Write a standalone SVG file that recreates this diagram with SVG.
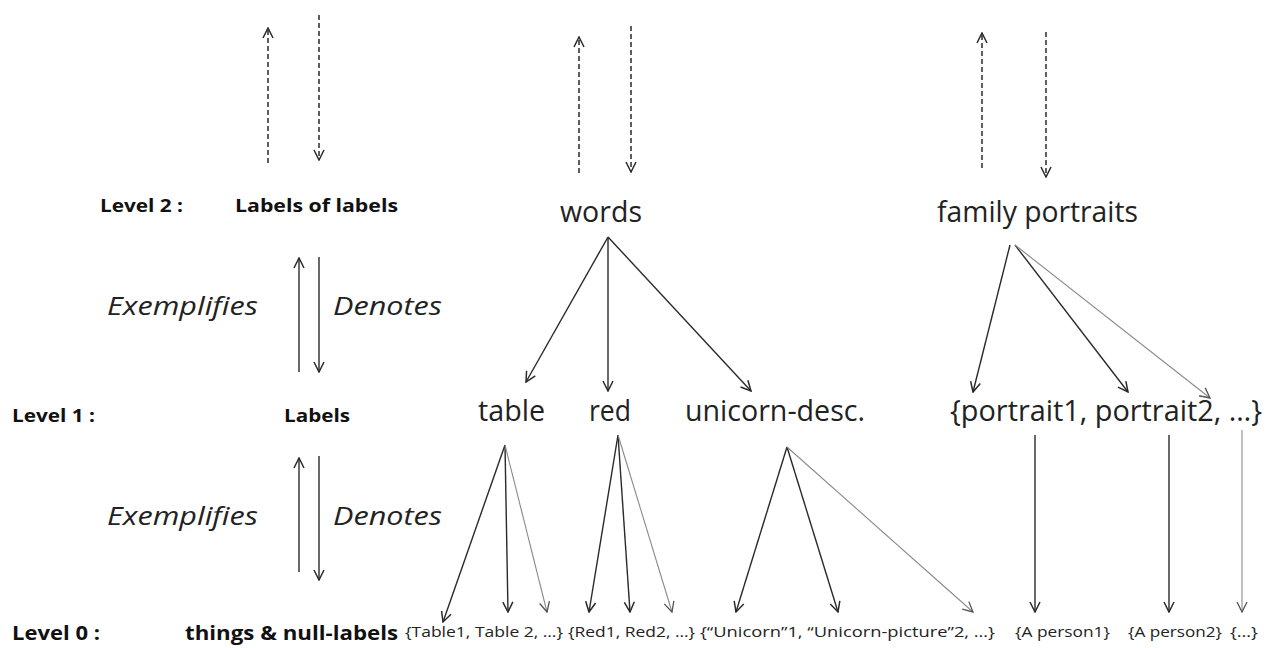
<svg xmlns="http://www.w3.org/2000/svg" width="1269" height="648" viewBox="0 0 1269 648">
<style>
.bg{fill:#fff}
.lvl{font-family:"Open Sans","Liberation Sans",sans-serif;font-weight:bold;font-size:18px;fill:#111}
.lvl0{font-family:"Open Sans","Liberation Sans",sans-serif;font-weight:bold;font-size:19px;fill:#111}
.big{font-family:"Open Sans","Liberation Sans",sans-serif;font-size:29px;fill:#222}
.it{font-family:"Open Sans","Liberation Sans",sans-serif;font-style:italic;font-size:25px;fill:#222}
.sm{font-family:"Open Sans","Liberation Sans",sans-serif;font-size:15px;fill:#222}
.solid{stroke:#2a2a2a;stroke-width:1.4;fill:none;marker-end:url(#ah)}
.light{stroke:#8a8a8a;stroke-width:1.1;fill:none;marker-end:url(#ahl)}
.dash{stroke:#2a2a2a;stroke-width:1.5;fill:none;stroke-dasharray:5 3;marker-end:url(#ah)}
</style>
<defs>
<marker id="ah" viewBox="0 0 12 12" refX="11" refY="6" markerWidth="12" markerHeight="12" markerUnits="userSpaceOnUse" orient="auto">
<path d="M1,1 L11,6 L1,11" fill="none" stroke="#2a2a2a" stroke-width="1.5"/>
</marker>
<marker id="ahl" viewBox="0 0 12 12" refX="11" refY="6" markerWidth="12" markerHeight="12" markerUnits="userSpaceOnUse" orient="auto">
<path d="M1,1 L11,6 L1,11" fill="none" stroke="#555" stroke-width="1.3"/>
</marker>
</defs>
<rect class="bg" x="0" y="0" width="1269" height="648"/>

<g id="legend">
<text class="lvl" x="100" y="212" textLength="83" lengthAdjust="spacingAndGlyphs">Level 2 :</text>
<text class="lvl" x="235" y="212" textLength="163" lengthAdjust="spacingAndGlyphs">Labels of labels</text>
<text class="lvl" x="12" y="422" textLength="83" lengthAdjust="spacingAndGlyphs">Level 1 :</text>
<text class="lvl" x="284" y="422" textLength="66" lengthAdjust="spacingAndGlyphs">Labels</text>
<text class="lvl0" x="12" y="640" textLength="88" lengthAdjust="spacingAndGlyphs">Level 0 :</text>
<text class="lvl0" x="185" y="640" textLength="213" lengthAdjust="spacingAndGlyphs">things &amp; null-labels</text>
<text class="it" x="107" y="315" textLength="151" lengthAdjust="spacingAndGlyphs">Exemplifies</text>
<text class="it" x="333" y="315" textLength="109" lengthAdjust="spacingAndGlyphs">Denotes</text>
<text class="it" x="107" y="525" textLength="151" lengthAdjust="spacingAndGlyphs">Exemplifies</text>
<text class="it" x="333" y="525" textLength="109" lengthAdjust="spacingAndGlyphs">Denotes</text>
</g>

<g id="n-words"><text class="big" x="560" y="222" textLength="82" lengthAdjust="spacingAndGlyphs">words</text></g>
<g id="n-family"><text class="big" x="937" y="222" textLength="201" lengthAdjust="spacingAndGlyphs">family portraits</text></g>
<g id="n-table"><text class="big" x="478" y="421" textLength="67" lengthAdjust="spacingAndGlyphs">table</text></g>
<g id="n-red"><text class="big" x="589" y="421" textLength="42" lengthAdjust="spacingAndGlyphs">red</text></g>
<g id="n-unicorn"><text class="big" x="685" y="421" textLength="180" lengthAdjust="spacingAndGlyphs">unicorn-desc.</text></g>
<g id="n-portraits"><text class="big" x="950" y="421" textLength="312" lengthAdjust="spacingAndGlyphs">{portrait1, portrait2, …}</text></g>
<g id="n-tables"><text class="sm" x="405" y="637" textLength="158" lengthAdjust="spacingAndGlyphs">{Table1, Table 2, …}</text></g>
<g id="n-reds"><text class="sm" x="568" y="637" textLength="127" lengthAdjust="spacingAndGlyphs">{Red1, Red2, …}</text></g>
<g id="n-unicorns"><text class="sm" x="700" y="637" textLength="295" lengthAdjust="spacingAndGlyphs">{“Unicorn”1, “Unicorn-picture”2, …}</text></g>
<g id="n-person1"><text class="sm" x="1015" y="637" textLength="95" lengthAdjust="spacingAndGlyphs">{A person1}</text></g>
<g id="n-person2"><text class="sm" x="1128" y="637" textLength="94" lengthAdjust="spacingAndGlyphs">{A person2}</text></g>
<g id="n-etc"><text class="sm" x="1230" y="637" textLength="28" lengthAdjust="spacingAndGlyphs">{…}</text></g>

<g id="connectors">
<line class="dash" x1="268" y1="163" x2="268" y2="28"/>
<line class="dash" x1="319" y1="15" x2="319" y2="160"/>
<line class="dash" x1="579" y1="173" x2="579" y2="37"/>
<line class="dash" x1="631" y1="26" x2="631" y2="172"/>
<line class="dash" x1="982" y1="168" x2="982" y2="33"/>
<line class="dash" x1="1046" y1="32" x2="1046" y2="177"/>
<line class="solid" x1="299" y1="372" x2="299" y2="258"/>
<line class="solid" x1="319" y1="257" x2="319" y2="372"/>
<line class="solid" x1="299" y1="572" x2="299" y2="458"/>
<line class="solid" x1="319" y1="456" x2="319" y2="580"/>
<line class="solid" x1="608" y1="237" x2="526" y2="382"/>
<line class="solid" x1="608" y1="237" x2="608" y2="391"/>
<line class="solid" x1="608" y1="237" x2="751" y2="391"/>
<line class="solid" x1="1010" y1="245" x2="973" y2="392"/>
<line class="solid" x1="1015" y1="245" x2="1128" y2="392"/>
<line class="light" x1="1015" y1="245" x2="1210" y2="398"/>
<line class="solid" x1="505" y1="445" x2="443" y2="622"/>
<line class="solid" x1="505" y1="445" x2="508" y2="612"/>
<line class="light" x1="505" y1="445" x2="547" y2="612"/>
<line class="solid" x1="618" y1="435" x2="589" y2="612"/>
<line class="solid" x1="618" y1="435" x2="630" y2="612"/>
<line class="light" x1="618" y1="435" x2="672" y2="612"/>
<line class="solid" x1="787" y1="447" x2="736" y2="612"/>
<line class="solid" x1="787" y1="447" x2="838" y2="612"/>
<line class="light" x1="787" y1="447" x2="973" y2="612"/>
<line class="solid" x1="1035" y1="435" x2="1035" y2="612"/>
<line class="solid" x1="1169" y1="435" x2="1169" y2="612"/>
<line class="light" x1="1242" y1="430" x2="1242" y2="612"/>
</g>
</svg>
